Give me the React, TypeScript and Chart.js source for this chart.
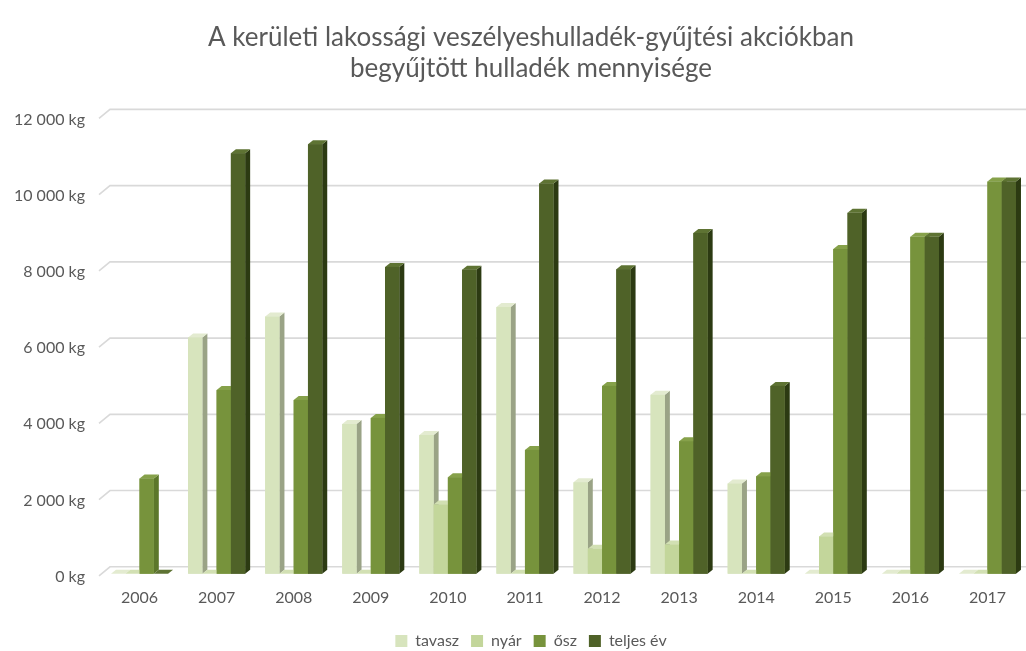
import React, { useEffect, useRef } from "react";
import { Chart, registerables } from "chart.js";

Chart.register(...registerables);

const years = ["2006", "2007", "2008", "2009", "2010", "2011", "2012", "2013", "2014", "2015", "2016", "2017"];
const tavasz = [0, 6200, 6750, 3930, 3640, 7000, 2400, 4700, 2370, 0, 0, 0];
const nyar = [0, 0, 0, 0, 1820, 0, 660, 770, 0, 980, 0, 0];
const osz = [2500, 4820, 4560, 4090, 2530, 3250, 4930, 3480, 2560, 8520, 8840, 10290];
const teljesEv = [0, 11030, 11270, 8050, 7980, 10240, 7990, 8940, 4930, 9470, 8840, 10290];
const seriesNames = ["tavasz", "nyár", "ősz", "teljes év"];
const yMin = 0;
const yMax = 12000;
const yStep = 2000;

const frontColors = ["#D7E4BD", "#C3D69B", "#77933C", "#4F6228"];
const sideColors = ["#9AA386", "#A1B27C", "#5C772A", "#2C3A12"];
const topColors = ["#E3EBD0", "#D2E0B3", "#86A14A", "#5E7333"];

const DX = 5;
const DY = 4;
const GX = 9;
const GY = 7;

const fmt = (v: number) => String(v).replace(/\B(?=(\d{3})+(?!\d))/g, " ") + " kg";

const bar3d = {
  id: "bar3d",
  afterLayout(chart: any) {
    const ys = chart.scales.y;
    if (ys) ys.left = 0;
  },
  beforeDatasetsDraw(chart: any) {
    const ctx = chart.ctx;
    const ys = chart.scales.y;
    const area = chart.chartArea;
    ctx.save();
    ctx.strokeStyle = "#D9D9D9";
    ctx.lineWidth = 1.6;
    ys.ticks.forEach((t: any) => {
      const yy = ys.getPixelForValue(t.value);
      ctx.beginPath();
      ctx.moveTo(area.left - 2, yy + 2);
      ctx.lineTo(area.left + GX, yy - GY);
      ctx.lineTo(area.right, yy - GY);
      ctx.stroke();
    });
    ctx.restore();
  },
  afterDatasetsDraw(chart: any) {
    const ctx = chart.ctx;
    const n = chart.data.labels.length;
    const nd = chart.data.datasets.length;
    ctx.save();
    for (let i = 0; i < n; i++) {
      for (let d = 0; d < nd; d++) {
        const el = chart.getDatasetMeta(d).data[i];
        if (!el) continue;
        const p = el.getProps(["x", "y", "base", "width"], true);
        const l = p.x - p.width / 2;
        const r = p.x + p.width / 2;
        const top = Math.min(p.y, p.base);
        const bottom = p.base;
        ctx.fillStyle = sideColors[d];
        ctx.beginPath();
        ctx.moveTo(r, top);
        ctx.lineTo(r + DX, top - DY);
        ctx.lineTo(r + DX, bottom - DY);
        ctx.lineTo(r, bottom);
        ctx.closePath();
        ctx.fill();
        ctx.fillStyle = topColors[d];
        ctx.beginPath();
        ctx.moveTo(l, top);
        ctx.lineTo(l + DX, top - DY);
        ctx.lineTo(r + DX, top - DY);
        ctx.lineTo(r, top);
        ctx.closePath();
        ctx.fill();
        ctx.fillStyle = frontColors[d];
        ctx.fillRect(l, top, r - l, bottom - top);
      }
    }
    ctx.restore();
  },
};

export default function App() {
  const ref = useRef<HTMLCanvasElement>(null);
  useEffect(() => {
    if (!ref.current) return;
    Chart.defaults.font.family = "Lato";
    const series = [tavasz, nyar, osz, teljesEv];
    const chart = new Chart(ref.current, {
      type: "bar",
      data: {
        labels: years,
        datasets: series.map((s, i) => ({
          label: seriesNames[i],
          data: s,
          backgroundColor: frontColors[i],
          borderWidth: 0,
          barPercentage: 1,
          categoryPercentage: 0.74,
        })),
      },
      options: {
        animation: false,
        responsive: false,
        events: [],
        layout: { padding: { left: 36, right: 0, top: 0, bottom: -8 } },
        plugins: {
          title: {
            display: true,
            text: ["A kerületi lakossági veszélyeshulladék-gyűjtési akciókban", "begyűjtött hulladék mennyisége"],
            color: "#595959",
            font: { size: 26, weight: "normal", lineHeight: 1.2 },
            padding: { top: 22, bottom: 32 },
          },
          legend: {
            position: "bottom",
            labels: {
              color: "#595959",
              font: { size: 16 },
              boxWidth: 12,
              boxHeight: 12,
              padding: 12,
            },
          },
          tooltip: { enabled: false },
        },
        scales: {
          x: {
            grid: { display: false, drawTicks: false },
            border: { display: false },
            ticks: { color: "#595959", font: { size: 16 }, padding: 14 },
          },
          y: {
            min: yMin,
            max: yMax,
            afterFit: (s: any) => {
              s.width = 65;
            },
            grid: { display: false, drawTicks: false },
            border: { display: false },
            ticks: {
              stepSize: yStep,
              color: "#595959",
              font: { size: 16 },
              padding: 16,
              labelOffset: 3,
              callback: (v: any) => fmt(Number(v)),
            },
          },
        },
      },
      plugins: [bar3d],
    });
    return () => chart.destroy();
  }, []);
  return (
    <div style={{ position: "absolute", left: 0, top: 0, width: 1026, height: 651, background: "#fff" }}>
      <canvas ref={ref} width={1026} height={651} />
    </div>
  );
}
